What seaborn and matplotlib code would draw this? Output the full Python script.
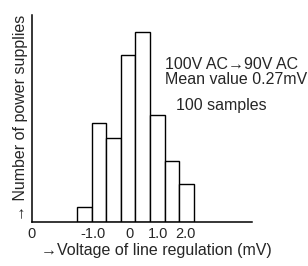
import matplotlib
matplotlib.use("Agg")
import matplotlib.pyplot as plt
import seaborn as sns
import numpy as np

# Data (bins of 0.5 mV)
bin_edges = [-1.5, -1.0, -0.5, 0.0, 0.5, 1.0, 1.5, 2.0, 2.5]
counts = [2, 13, 11, 22, 25, 14, 8, 5]
tick_pos = [-3.05, -0.96, 0.28, 1.26, 2.22]
tick_labels = ["0", "-1.0", "0", "1.0", "2.0"]

sns.set_theme(style="white")
plt.rcParams['font.family'] = ['Liberation Sans', 'DejaVu Sans']

W, H = 308, 266
fig = plt.figure(figsize=(W / 100, H / 100), dpi=100)
ax = fig.add_axes([32 / W, 44 / H, 220 / W, 207 / H])

centers = [(bin_edges[i] + bin_edges[i + 1]) / 2 for i in range(len(counts))]
sns.histplot(x=centers, weights=counts, bins=bin_edges, ax=ax,
             color="white", edgecolor="black", linewidth=1.0, alpha=1)

ax.set_xlim(-3.05, 4.5)
ax.set_ylim(0, 27.2)
ax.set_xticks(tick_pos)
ax.set_xticklabels(tick_labels, fontsize=10.5)
ax.set_yticks([])
ax.tick_params(axis='x', length=0, pad=3.5)
for s in ['top', 'right']:
    ax.spines[s].set_visible(False)
for s in ['left', 'bottom']:
    ax.spines[s].set_color('black')
    ax.spines[s].set_linewidth(1.1)
ax.set_xlabel("")
ax.set_ylabel("")

fs = 11.5
fig.text(41 / W, 1 - 255.5 / H, "→Voltage of line regulation (mV)", fontsize=fs,
         va='baseline', ha='left')
fig.text(24.5 / W, 1 - 221 / H, "→ Number of power supplies", fontsize=fs,
         rotation=90, rotation_mode='anchor', va='baseline', ha='left')

fig.text(165 / W, 1 - 68.5 / H, "100V AC→90V AC", fontsize=fs, va='baseline', ha='left')
fig.text(165 / W, 1 - 84.5 / H, "Mean value 0.27mV", fontsize=fs, va='baseline', ha='left')
fig.text(176.5 / W, 1 - 110 / H, "100 samples", fontsize=fs, va='baseline', ha='left')

fig.savefig("out.png", dpi=100)
